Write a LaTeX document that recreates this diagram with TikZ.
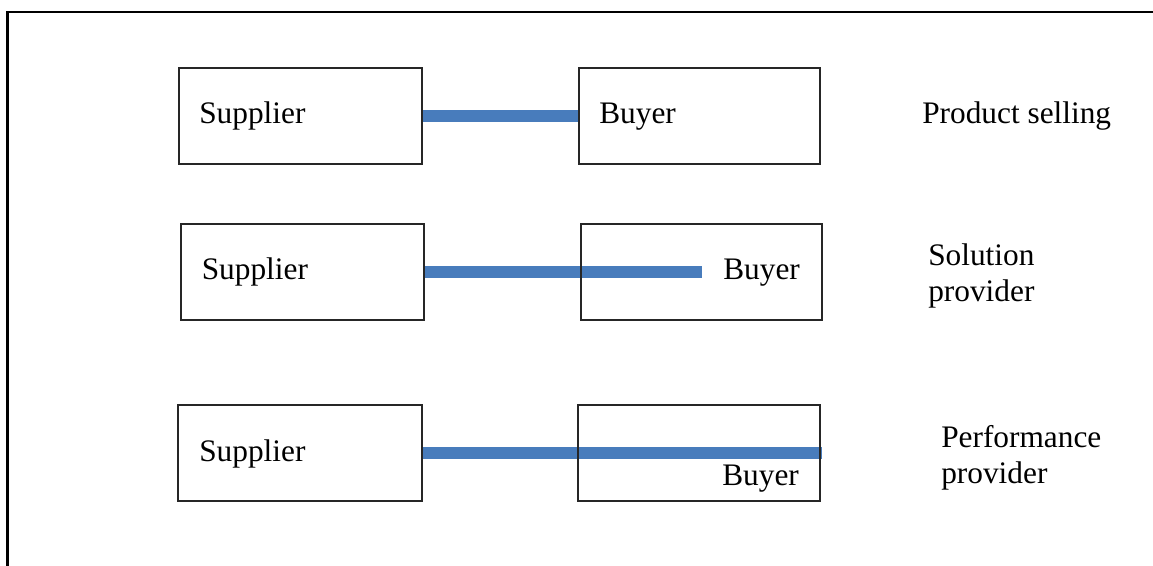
\documentclass[tikz,border=0pt]{standalone}
\usepackage{fontspec}
\setmainfont{Liberation Serif}
\usetikzlibrary{backgrounds}
\definecolor{linkblue}{RGB}{72,124,188}
\begin{document}
\begin{tikzpicture}[x=0.75pt,y=-0.75pt,
  box/.style={draw=black!85,line width=0.9pt,inner sep=0pt,outer sep=0pt,minimum height=72pt},
  lbl/.style={anchor=base west,inner sep=0pt,font=\fontsize{23.5}{27}\selectfont},
  lbl2/.style={anchor=base west,inner sep=0pt,align=left,font=\fontsize{23.5}{27}\selectfont},
  link/.style={draw=linkblue,line width=8.4pt,line cap=butt}]
\useasboundingbox (0,0) rectangle (1153,566);
\coordinate (fa) at (7.5,566);
\coordinate (fb) at (7.5,12);
\coordinate (fc) at (1153,12);
\draw[line width=1.6pt,line cap=rect] (fa) -- (fb) -- (fc);
% row 1
\node[box,minimum width=182.25pt] (s1) at (300.5,116) {};
\node[box,minimum width=180.75pt] (b1) at (699.5,116) {};
\node[lbl] (s1t) at (199,124) {Supplier};
\node[lbl] (b1t) at (599,124) {Buyer};
\node[lbl] (m1) at (922,124) {Product selling};
% row 2
\node[box,minimum width=182.25pt] (s2) at (302.5,272) {};
\node[box,minimum width=180.75pt] (b2) at (701.5,272) {};
\node[lbl] (s2t) at (201.5,280) {Supplier};
\node[lbl] (b2t) at (723,280) {Buyer};
\node[lbl] (m2a) at (928,266) {Solution};
\node[lbl] (m2b) at (928,302) {provider};
\coordinate (e2) at (702,272);
% row 3
\node[box,minimum width=183pt] (s3) at (300,453) {};
\node[box,minimum width=181.5pt] (b3) at (699,453) {};
\node[lbl] (s3t) at (199,461) {Supplier};
\node[lbl] (b3t) at (722,485) {Buyer};
\node[lbl] (m3a) at (941,447) {Performance};
\node[lbl] (m3b) at (941,483) {provider};
\coordinate (e3) at (822,453);
\begin{scope}[on background layer]
\draw[link] (s1.east) -- (b1.west);
\draw[link] (s2.east) -- (e2);
\draw[link] (s3.east) -- (e3);
\end{scope}
\end{tikzpicture}
\end{document}
